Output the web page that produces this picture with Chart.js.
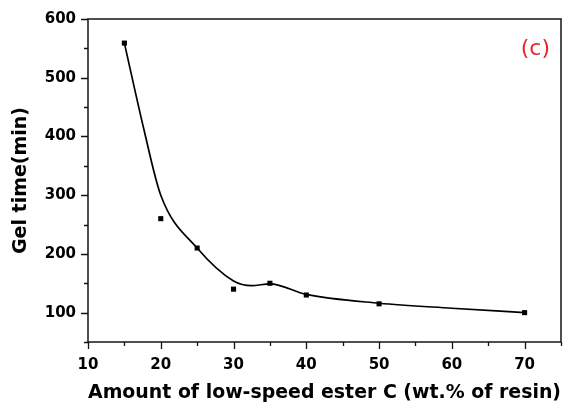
<!DOCTYPE html>
<html>
<head>
<meta charset="utf-8">
<script src="https://cdn.jsdelivr.net/npm/chart.js@4.4.1/dist/chart.umd.min.js"></script>
<style>
html,body{margin:0;padding:0;background:#fff;}
#wrap{width:565px;height:407px;}
</style>
</head>
<body>
<div id="wrap"><canvas id="gelChart" width="565" height="407"></canvas></div>
<script>
// measured points
const esterAmount = [15, 20, 25, 30, 35, 40, 50, 70];
const gelTime = [559, 260, 210, 140, 150, 130, 115, 100];

// fitted curve
const curveX = [15, 17.7, 20, 25, 30, 32.5, 35, 40, 50, 60, 70];
const curveY = [559, 411, 300, 210, 154, 146, 149, 131, 116, 107.5, 100];

const xTicks = [10, 20, 30, 40, 50, 60, 70];
const yTicks = [100, 200, 300, 400, 500, 600];

const font = 'DejaVu Sans, Verdana, sans-serif';

// frame + outside ticks (major / minor)
const framePlugin = {
  id: 'frame',
  afterDraw(chart) {
    const ctx = chart.ctx;
    const a = chart.chartArea;
    const xs = chart.scales.x, ys = chart.scales.y;
    ctx.save();
    ctx.strokeStyle = '#222';
    ctx.lineWidth = 1.6;
    ctx.strokeRect(a.left, a.top, a.right - a.left, a.bottom - a.top);
    ctx.lineWidth = 1.3;
    ctx.strokeStyle = '#111';
    ctx.beginPath();
    xs.ticks.forEach(t => {
      const px = Math.round(xs.getPixelForValue(t.value)) + 0.5;
      const len = xTicks.includes(t.value) ? 7 : 4;
      ctx.moveTo(px, a.bottom);
      ctx.lineTo(px, a.bottom + len);
    });
    ys.ticks.forEach(t => {
      const py = Math.round(ys.getPixelForValue(t.value)) + 0.5;
      const len = yTicks.includes(t.value) ? 7 : 4;
      ctx.moveTo(a.left, py);
      ctx.lineTo(a.left - len, py);
    });
    ctx.stroke();
    // panel label
    ctx.fillStyle = '#e8262a';
    ctx.font = '22px ' + font;
    ctx.textAlign = 'right';
    ctx.textBaseline = 'middle';
    ctx.fillText('(c)', a.right - 11, a.top + 30);
    ctx.restore();
  }
};

new Chart(document.getElementById('gelChart'), {
  type: 'scatter',
  data: {
    datasets: [{
      type: 'line',
      label: 'fit',
      data: curveX.map((x, i) => ({x: x, y: curveY[i]})),
      borderColor: '#000',
      borderWidth: 1.7,
      pointRadius: 0,
      cubicInterpolationMode: 'monotone',
      fill: false
    }, {
      label: 'Gel time',
      data: esterAmount.map((x, i) => ({x: x, y: gelTime[i]})),
      backgroundColor: '#000',
      borderColor: '#000',
      pointStyle: 'rect',
      pointRadius: 3.6,
      borderWidth: 0
    }]
  },
  options: {
    responsive: false,
    animation: false,
    layout: {padding: {top: 19, right: 1, left: 0, bottom: 0}},
    plugins: {legend: {display: false}, tooltip: {enabled: false}},
    scales: {
      x: {
        type: 'linear',
        min: 10, max: 75,
        afterFit(s) { s.height = 65; s.paddingRight = 0; s.paddingLeft = 0; },
        border: {display: false},
        grid: {display: false, drawTicks: false},
        ticks: {
          stepSize: 5,
          autoSkip: false,
          maxRotation: 0,
          padding: 14,
          color: '#000',
          font: {family: font, size: 15, weight: 'bold'},
          callback: v => xTicks.includes(v) ? v : ''
        },
        title: {
          display: true,
          text: 'Amount of low-speed ester C (wt.% of resin)',
          color: '#000',
          font: {family: font, size: 19, weight: 'bold'},
          padding: {top: 0, bottom: 3}
        }
      },
      y: {
        min: 50, max: 600,
        afterFit(s) { s.width = 88; s.paddingTop = 0; s.paddingBottom = 0; },
        border: {display: false},
        grid: {display: false, drawTicks: false},
        ticks: {
          stepSize: 50,
          autoSkip: false,
          padding: 12,
          color: '#000',
          font: {family: font, size: 15, weight: 'bold'},
          callback: v => yTicks.includes(v) ? v : ''
        },
        title: {
          display: true,
          text: 'Gel time(min)',
          color: '#000',
          font: {family: font, size: 19, weight: 'bold'},
          padding: {top: 10, bottom: 0}
        }
      }
    }
  },
  plugins: [framePlugin]
});
</script>
</body>
</html>
